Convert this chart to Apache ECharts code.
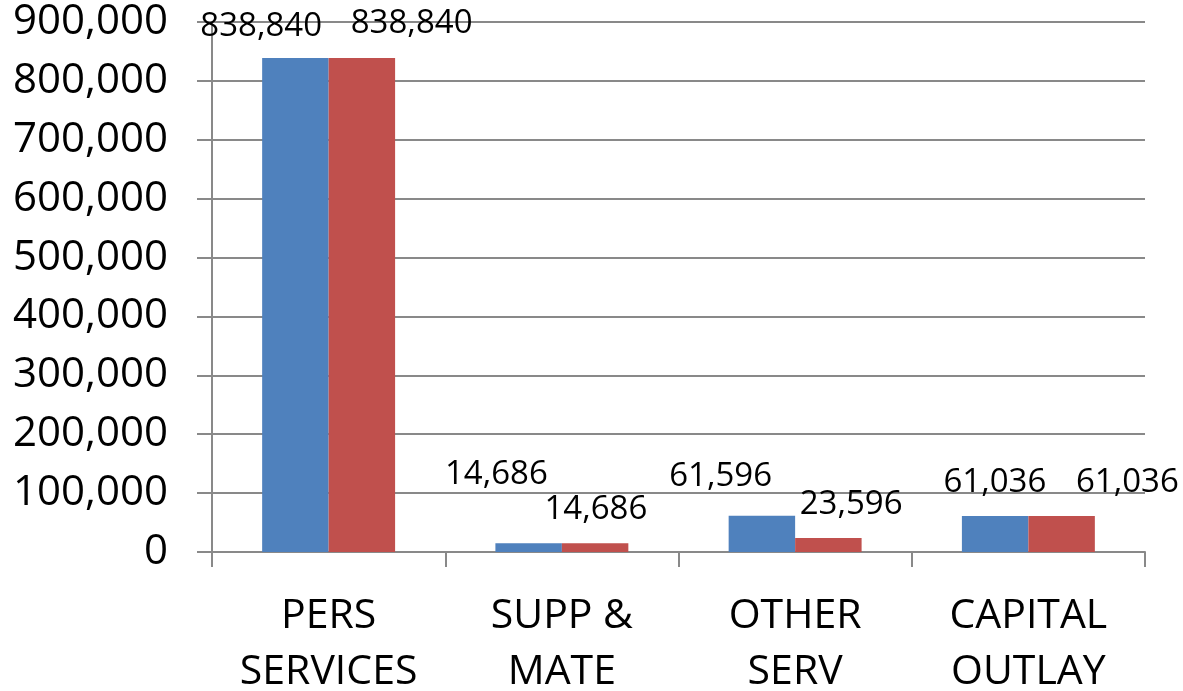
<!DOCTYPE html>
<html>
<head>
<meta charset="utf-8">
<script src="https://cdn.jsdelivr.net/npm/echarts@6/dist/echarts.min.js"></script>
<style>
  html, body { margin: 0; padding: 0; background: #ffffff; }
  #chart { width: 1183px; height: 691px; }
</style>
</head>
<body>
<div id="chart"></div>
<script>
// Budget by category, two columns per category
const categories = ['PERS\nSERVICES', 'SUPP &\nMATE', 'OTHER\nSERV', 'CAPITAL\nOUTLAY'];
const seriesA = [838840, 14686, 61596, 61036];
const seriesB = [838840, 14686, 23596, 61036];
const yTicks = [0, 100000, 200000, 300000, 400000, 500000, 600000, 700000, 800000, 900000];

// Where each value label sits, relative to the top-left corner of its bar (px)
const labelShiftA = [[-1, -31], [1, -69], [-8, -39], [33, -33]];
const labelShiftB = [[83, -34], [34, -34], [56, -34], [99, -33]];

const FONT = 'Open Sans';
const GRID_GREY = '#898989';
const fmt = v => Number(v).toLocaleString('en-US');

function withLabels(values, shifts) {
  return values.map((v, i) => ({
    value: v,
    label: { position: shifts[i] }
  }));
}

const labelStyle = {
  show: true,
  align: 'center',
  verticalAlign: 'middle',
  fontFamily: FONT,
  fontSize: 33,
  color: '#000000',
  formatter: p => fmt(p.value)
};

const chart = echarts.init(document.getElementById('chart'), null, { renderer: 'canvas' });
chart.setOption({
  animation: false,
  backgroundColor: '#ffffff',
  grid: {
    left: 212, right: 38, top: 22, bottom: 139,
    containLabel: false,
    outerBoundsMode: 'none'
  },
  xAxis: {
    type: 'category',
    data: categories,
    boundaryGap: true,
    axisLine: { show: true, lineStyle: { color: GRID_GREY, width: 2 } },
    axisTick: { show: true, length: 15, alignWithLabel: false, lineStyle: { color: GRID_GREY, width: 2 } },
    axisLabel: {
      interval: 0,
      margin: 36,
      fontFamily: FONT,
      fontSize: 41,
      lineHeight: 56,
      color: '#000000'
    },
    splitLine: { show: false }
  },
  yAxis: {
    type: 'value',
    min: yTicks[0],
    max: yTicks[yTicks.length - 1],
    interval: yTicks[1] - yTicks[0],
    axisLine: { show: true, lineStyle: { color: GRID_GREY, width: 2 } },
    axisTick: { show: true, length: 15, lineStyle: { color: GRID_GREY, width: 2 } },
    axisLabel: {
      margin: 44,
      fontFamily: FONT,
      fontSize: 42,
      color: '#000000',
      formatter: v => fmt(v)
    },
    splitLine: { show: true, lineStyle: { color: GRID_GREY, width: 2 } }
  },
  series: [
    {
      type: 'bar',
      data: withLabels(seriesA, labelShiftA),
      itemStyle: { color: '#4F81BD' },
      barGap: '0%',
      barCategoryGap: '43%',
      label: labelStyle
    },
    {
      type: 'bar',
      data: withLabels(seriesB, labelShiftB),
      itemStyle: { color: '#C0504D' },
      barGap: '0%',
      barCategoryGap: '43%',
      label: labelStyle
    }
  ]
});
</script>
</body>
</html>
